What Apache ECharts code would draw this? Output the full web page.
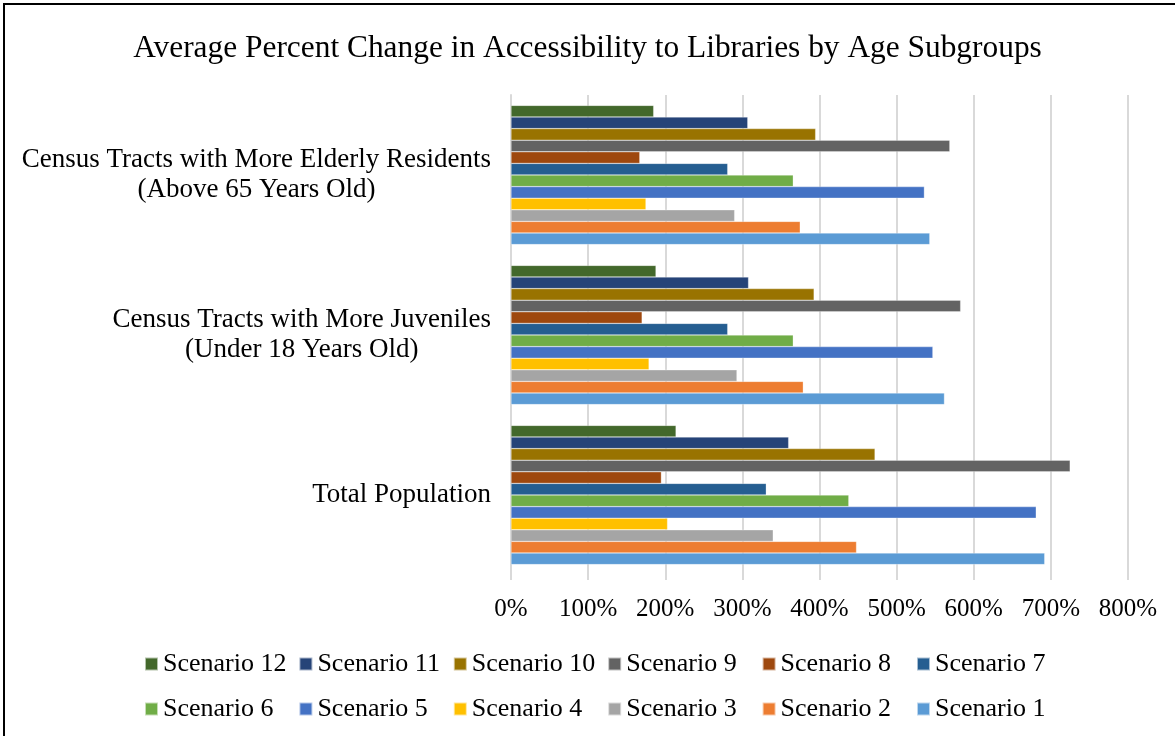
<!DOCTYPE html>
<html>
<head>
<meta charset="utf-8">
<title>Average Percent Change in Accessibility to Libraries</title>
<script src="https://cdn.jsdelivr.net/npm/echarts@6/dist/echarts.min.js"></script>
<style>
  html, body { margin: 0; padding: 0; background: #fff; }
  #chart { width: 1175px; height: 736px; }
</style>
</head>
<body>
<div id="chart"></div>
<script>
// categories, bottom to top (same as the picture)
var categories = [
  'Total Population',
  'Census Tracts with More Juveniles\n(Under 18 Years Old)',
  'Census Tracts with More Elderly Residents\n(Above 65 Years Old)'
]

// percent change per scenario, in category order above
var scenario1 = [692, 562, 543]
var scenario2 = [448, 379, 375]
var scenario3 = [340, 293, 290]
var scenario4 = [203, 179, 175]
var scenario5 = [681, 547, 536]
var scenario6 = [438, 366, 366]
var scenario7 = [331, 281, 281]
var scenario8 = [195, 170, 167]
var scenario9 = [725, 583, 569]
var scenario10 = [472, 393, 395]
var scenario11 = [360, 308, 307]
var scenario12 = [214, 188, 185]

var xTicks = [0, 100, 200, 300, 400, 500, 600, 700, 800]

var seriesNames = ['Scenario 1', 'Scenario 2', 'Scenario 3', 'Scenario 4', 'Scenario 5', 'Scenario 6',
  'Scenario 7', 'Scenario 8', 'Scenario 9', 'Scenario 10', 'Scenario 11', 'Scenario 12']
var seriesValues = [scenario1, scenario2, scenario3, scenario4, scenario5, scenario6,
  scenario7, scenario8, scenario9, scenario10, scenario11, scenario12]
// office palette
var colors = ['#5B9BD5', '#ED7D31', '#A5A5A5', '#FFC000', '#4472C4', '#70AD47',
  '#255E91', '#9E480E', '#636363', '#997300', '#264478', '#43682B']

var font = '"Liberation Serif", "Times New Roman", serif'

var chart = echarts.init(document.getElementById('chart'))

var series = seriesNames.map(function (name, i) {
  return {
    name: name,
    type: 'bar',
    data: seriesValues[i],
    barGap: '0%',
    barCategoryGap: '13%',
    itemStyle: {
      color: colors[i],
      borderColor: 'rgba(255,255,255,0.6)',
      borderWidth: 0.5
    }
  }
})
// echarts puts the first series at the top of a horizontal group, so Scenario 12 goes first
series.reverse()

// excel lays the legend out in equal columns: 2 rows x 6, Scenario 12 first
var legendLeft = 139
var legendColWidth = 154.4
var legendTops = [646, 691]
var legendOrder = seriesNames.slice().reverse()
var legends = legendOrder.map(function (name, k) {
  return {
    data: [name],
    top: legendTops[Math.floor(k / 6)],
    left: legendLeft + (k % 6) * legendColWidth,
    icon: 'rect',
    itemWidth: 13,
    itemHeight: 13,
    selectedMode: false,
    textStyle: { fontFamily: font, fontSize: 26, color: '#000' }
  }
})

chart.setOption({
  animation: false,
  textStyle: { fontFamily: font },
  title: {
    text: 'Average Percent Change in Accessibility to Libraries by Age Subgroups',
    left: 'center',
    top: 28,
    textStyle: { fontFamily: font, fontSize: 31.4, fontWeight: 'normal', color: '#000' }
  },
  legend: legends,
  grid: {
    left: 511,
    right: 47,
    top: 95,
    bottom: 161
  },
  xAxis: {
    type: 'value',
    min: 0,
    max: xTicks[xTicks.length - 1],
    interval: 100,
    axisLine: { show: false },
    axisTick: { show: true, length: 5, lineStyle: { color: '#d9d9d9', width: 2 } },
    axisLabel: {
      margin: 22,
      fontFamily: font,
      fontSize: 25,
      color: '#000',
      formatter: '{value}%'
    },
    splitLine: { show: true, lineStyle: { color: '#d9d9d9', width: 2 } }
  },
  yAxis: {
    type: 'category',
    data: categories,
    axisLine: { show: true, lineStyle: { color: '#d9d9d9', width: 2 } },
    axisTick: { show: false },
    axisLabel: {
      margin: 20,
      color: '#000',
      formatter: function (v) {
        return v.split('\n').map(function (s) { return '{c|' + s + '}' }).join('\n')
      },
      rich: {
        c: { align: 'center', fontFamily: font, fontSize: 27, lineHeight: 30, color: '#000' }
      }
    }
  },
  graphic: [{
    type: 'rect',
    silent: true,
    shape: { x: 4, y: 4, width: 1300, height: 900 },
    style: { fill: 'none', stroke: '#000', lineWidth: 2 }
  }],
  series: series
})
</script>
</body>
</html>
